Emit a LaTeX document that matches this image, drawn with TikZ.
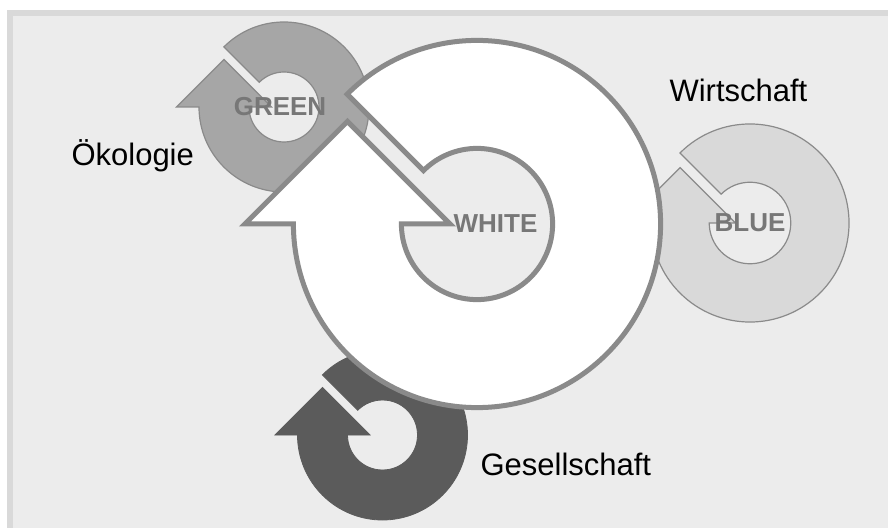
\documentclass[tikz,border=0pt]{standalone}
\usepackage{fontspec}
\setmainfont{Liberation Sans}
\definecolor{panelgray}{HTML}{ECECEC}
\definecolor{framegray}{HTML}{D9D9D9}
\definecolor{edgegray}{HTML}{8A8A8A}
\definecolor{greenfill}{HTML}{A6A6A6}
\definecolor{bluefill}{HTML}{D9D9D9}
\definecolor{darkfill}{HTML}{5B5B5B}
\definecolor{ringtext}{HTML}{777777}
\begin{document}
\begin{tikzpicture}[
        x=1pt, y=1pt,
        cycle arrow/.pic={
            \filldraw[pic actions] (135:85) arc[start angle=135, end angle=-180, radius=85]
                -- (-107.5,0) -- (-60,47.5) -- (-12.5,0) -- (-35,0)
                arc[start angle=-180, end angle=135, radius=35] -- cycle;
        },
        ring label/.style = {font=\fontsize{26}{30}\selectfont\bfseries, text=ringtext, anchor=base},
        side label/.style = {font=\fontsize{31}{36}\selectfont, anchor=base west}
    ]
    \useasboundingbox (0,0) rectangle (888,528);
    \fill[white] (0,0) rectangle (888,528);
    \fill[framegray] (7,0) rectangle (888,518);
    \fill[panelgray] (13,0) rectangle (888,512);

    \pic (greenring) [fill=greenfill, draw=edgegray, line width=1.2pt] at (284,421) {cycle arrow};
    \pic (bluering) [fill=bluefill, draw=edgegray, line width=1.2pt, scale=1.165] at (750,305) {cycle arrow};
    \pic (darkring) [fill=darkfill, draw=darkfill, line width=0.8pt] at (382.5,93) {cycle arrow};
    \pic (whitering) [fill=white, draw=edgegray, line width=5pt, line join=miter, scale=2.16] at (477,304) {cycle arrow};

    \node[ring label] (green) at (280,412) {GREEN};
    \node[ring label] (white) at (495.5,295) {WHITE};
    \node[ring label] (blue) at (750,296) {BLUE};

    \node[side label] (oekologie) at (68,362) {Ökologie};
    \node[side label] (wirtschaft) at (666,426) {Wirtschaft};
    \node[side label] (gesellschaft) at (477,53) {Gesellschaft};
\end{tikzpicture}
\end{document}
